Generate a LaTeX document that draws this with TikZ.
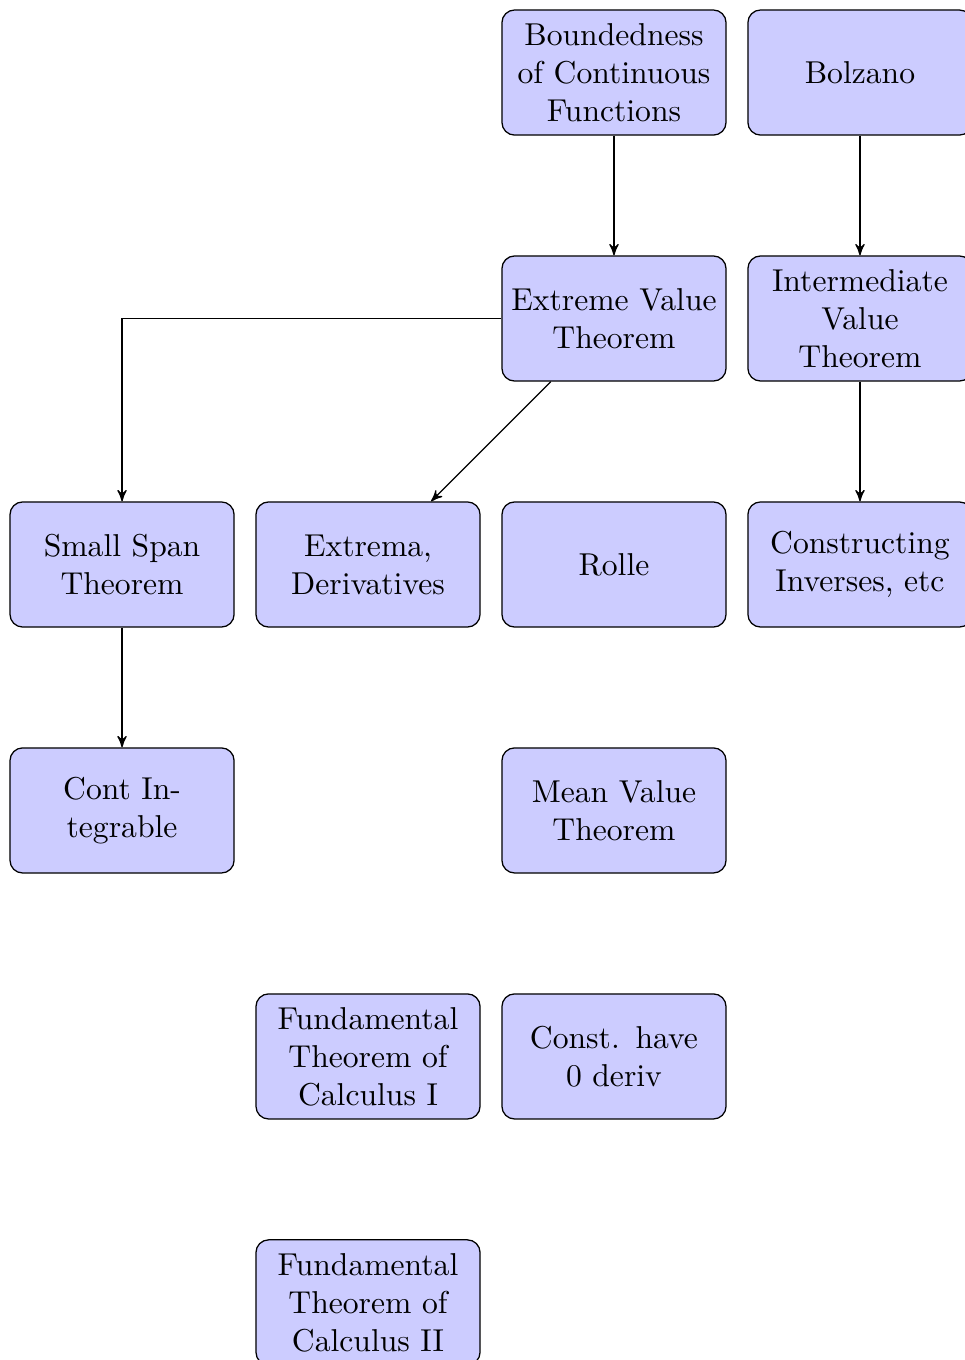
\documentclass[tikz,border=0pt]{standalone}
\usepackage{tikz}
\usetikzlibrary{shapes.geometric, arrows, positioning}
\tikzset{
  thm/.style={rectangle, rounded corners, draw=black, fill=blue!20, text width=2.3cm, inner xsep=0.095cm, minimum height=1.39cm, align=center}
}
\tikzstyle{arrow} = [thin,black,->,>=stealth']

\begin{document}
\begin{tikzpicture}[node distance=2.733cm,auto]
    \useasboundingbox (0,0) rectangle (10.711,-15.111);
    \node [thm] (bound) at (6.822,-0.806) {Boundedness of Continuous Functions};
    \node [thm] (bolz) [right of=bound] {Bolzano};
    \node [thm] (evt) [below of=bound] {Extreme Value Theorem};
    \node [thm] (ivt) [right of=evt] {Intermediate Value Theorem};
    \node [thm] (rolle) [below of=evt] {Rolle};
    \node [thm] (inv) [right of=rolle] {Constructing Inverses, etc};
    \node [thm] (extr) [left of=rolle] {Extrema, Derivatives};
    \node [thm] (span) [left of=extr] {Small Span Theorem};
    \node [thm] (cont) [below of=span] {Cont Integrable};
    \node [thm] (mvt) [below of=rolle] {Mean Value Theorem};
    \node [thm] (const) [below of=mvt] {Const. have 0 deriv};
    \node [thm] (ftca) [left of=const] {Fundamental Theorem of Calculus I};
    \node [thm] (ftcb) [below of=ftca] {Fundamental Theorem of Calculus II};

    \draw [arrow] (bound) -- (evt);
    \draw [arrow] (bolz) -- (ivt);
    \draw [arrow] (evt) -| (span);
    \draw [arrow] (evt) -- (extr);
    \draw [arrow] (ivt) -- (inv);
    \draw [arrow] (span) -- (cont);
\end{tikzpicture}
\end{document}
